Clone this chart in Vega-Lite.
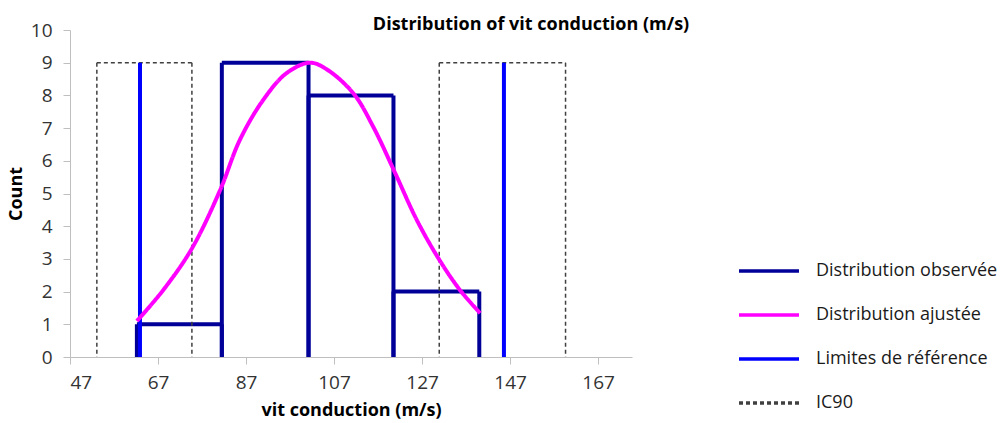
{
  "$schema": "https://vega.github.io/schema/vega-lite/v6.json",
  "autosize": "none",
  "width": 562,
  "height": 327,
  "padding": {"left": 70, "top": 30, "right": 376, "bottom": 66},
  "background": "white",
  "title": {"text": "Distribution of vit conduction (m/s)", "font": "Open Sans", "fontSize": 18, "fontWeight": "bold", "color": "#000000", "anchor": "middle", "dx": 180, "offset": -13},
  "config": {
    "view": {"stroke": null},
    "font": "Open Sans",
    "axis": {"labelOverlap": false, "labelSeparation": -40, "labelFontSize": 19},
    "axisY": {"labelOverlap": false, "labelSeparation": -40},
    "axisLeft": {"labelOverlap": false, "labelSeparation": -40},
    "axisQuantitative": {"labelOverlap": false, "labelSeparation": -40}
  },
  "datasets": {
    "obs": [
      {"lo": 62.2, "hi": 81.5, "count": 1, "series": "Distribution observée"},
      {"lo": 81.5, "hi": 101.2, "count": 9, "series": "Distribution observée"},
      {"lo": 101.2, "hi": 120.5, "count": 8, "series": "Distribution observée"},
      {"lo": 120.5, "hi": 140.0, "count": 2, "series": "Distribution observée"}
    ],
    "fit": [
      {"x": 62.2, "count": 1.1, "series": "Distribution ajustée"},
      {"x": 68.2, "count": 2.05, "series": "Distribution ajustée"},
      {"x": 74.7, "count": 3.32, "series": "Distribution ajustée"},
      {"x": 81.1, "count": 5.1, "series": "Distribution ajustée"},
      {"x": 85.6, "count": 6.64, "series": "Distribution ajustée"},
      {"x": 90.9, "count": 7.86, "series": "Distribution ajustée"},
      {"x": 96.2, "count": 8.68, "series": "Distribution ajustée"},
      {"x": 101.5, "count": 9.0, "series": "Distribution ajustée"},
      {"x": 105.3, "count": 8.8, "series": "Distribution ajustée"},
      {"x": 111.4, "count": 8.06, "series": "Distribution ajustée"},
      {"x": 115.9, "count": 7.04, "series": "Distribution ajustée"},
      {"x": 120.9, "count": 5.62, "series": "Distribution ajustée"},
      {"x": 125.8, "count": 4.19, "series": "Distribution ajustée"},
      {"x": 130.7, "count": 3.02, "series": "Distribution ajustée"},
      {"x": 135.6, "count": 2.05, "series": "Distribution ajustée"},
      {"x": 140.2, "count": 1.34, "series": "Distribution ajustée"}
    ],
    "lim": [
      {"x": 62.9, "count": 9, "series": "Limites de référence"},
      {"x": 145.6, "count": 9, "series": "Limites de référence"}
    ],
    "ic": [
      {"lo": 53.1, "hi": 74.7, "count": 9, "series": "IC90"},
      {"lo": 130.9, "hi": 159.6, "count": 9, "series": "IC90"}
    ]
  },
  "encoding": {
    "y": {"field": "count", "type": "quantitative", "scale": {"domain": [0, 10], "nice": false},
      "axis": {"values": [0, 1, 2, 3, 4, 5, 6, 7, 8, 9, 10], "title": "Count", "grid": false, "domainColor": "#BFBFBF", "tickColor": "#BFBFBF", "tickSize": 7, "labelColor": "#333333", "labelFontSize": 19, "labelFont": "Open Sans", "labelOverlap": false, "labelSeparation": -40, "labelPadding": 11, "titleFont": "Open Sans", "titleFontSize": 18, "titleFontWeight": "bold", "titleColor": "#000000", "titlePadding": 5}},
    "stroke": {
      "field": "series", "type": "nominal",
      "scale": {"domain": ["Distribution observée", "Distribution ajustée", "Limites de référence", "IC90"], "range": ["#000099", "#FF00FF", "#0000FF", "#404040"]},
      "legend": {"title": null, "orient": "none", "legendX": 667, "legendY": 209, "symbolType": "stroke", "symbolSize": 3600, "symbolStrokeWidth": 3.5, "labelFontSize": 18, "labelFont": "Open Sans", "labelColor": "#1a1a1a", "labelOffset": 15, "labelLimit": 400, "rowPadding": 3, "padding": 0}
    },
    "strokeDash": {
      "field": "series", "type": "nominal",
      "scale": {"domain": ["Distribution observée", "Distribution ajustée", "Limites de référence", "IC90"], "range": [[1, 0], [1, 0], [1, 0], [4, 3]]},
      "legend": {"title": null, "orient": "none", "legendX": 667, "legendY": 209, "symbolType": "stroke", "symbolSize": 3600, "symbolStrokeWidth": 3.5, "labelFontSize": 18, "labelFont": "Open Sans", "labelColor": "#1a1a1a", "labelOffset": 15, "labelLimit": 400, "rowPadding": 3, "padding": 0}
    }
  },
  "layer": [
    {
      "data": {"name": "obs"},
      "mark": {"type": "rule", "strokeWidth": 4},
      "encoding": {
        "x": {"field": "lo", "type": "quantitative", "scale": {"domain": [47, 174.7], "nice": false, "zero": false},
          "axis": {"values": [47, 67, 87, 107, 127, 147, 167], "title": "vit conduction (m/s)", "grid": false, "domainColor": "#BFBFBF", "tickColor": "#BFBFBF", "tickSize": 7, "labelColor": "#333333", "labelFontSize": 19, "labelFont": "Open Sans", "labelOverlap": false, "labelPadding": 9, "titleFont": "Open Sans", "titleFontSize": 18, "titleFontWeight": "bold", "titleColor": "#000000", "titlePadding": 9}},
        "y2": {"datum": 0}
      }
    },
    {
      "data": {"name": "obs"},
      "mark": {"type": "rule", "strokeWidth": 4},
      "encoding": {
        "x": {"field": "hi", "type": "quantitative"},
        "y2": {"datum": 0}
      }
    },
    {
      "data": {"name": "obs"},
      "mark": {"type": "rule", "strokeWidth": 4},
      "encoding": {
        "x": {"field": "lo", "type": "quantitative"},
        "x2": {"field": "hi"}
      }
    },
    {
      "data": {"name": "ic"},
      "mark": {"type": "rule", "strokeWidth": 1.5},
      "encoding": {
        "x": {"field": "lo", "type": "quantitative"},
        "y2": {"datum": 0}
      }
    },
    {
      "data": {"name": "ic"},
      "mark": {"type": "rule", "strokeWidth": 1.5},
      "encoding": {
        "x": {"field": "hi", "type": "quantitative"},
        "y2": {"datum": 0}
      }
    },
    {
      "data": {"name": "ic"},
      "mark": {"type": "rule", "strokeWidth": 1.5},
      "encoding": {
        "x": {"field": "lo", "type": "quantitative"},
        "x2": {"field": "hi"}
      }
    },
    {
      "data": {"name": "lim"},
      "mark": {"type": "rule", "strokeWidth": 4},
      "encoding": {
        "x": {"field": "x", "type": "quantitative"},
        "y2": {"datum": 0}
      }
    },
    {
      "data": {"name": "fit"},
      "mark": {"type": "line", "strokeWidth": 4, "interpolate": "catmull-rom"},
      "encoding": {
        "x": {"field": "x", "type": "quantitative"}
      }
    }
  ]
}
